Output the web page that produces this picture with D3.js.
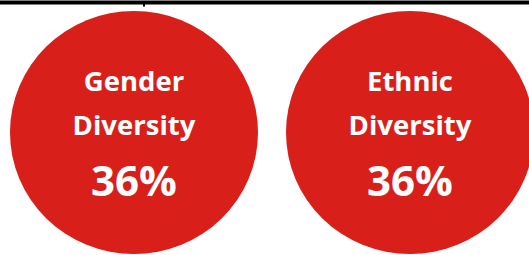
<!DOCTYPE html>
<html lang="en">
<head>
    <meta charset="UTF-8">
    <title>Diversity</title>
    <script src="https://d3js.org/d3.v7.min.js"></script>
    <style>
        html, body { margin: 0; padding: 0; background: #fff; overflow: hidden; }
    </style>
</head>
<body>
    <div id="chart"></div>
    <script>
        // data
        const categories = ["Gender", "Ethnic"];
        const subLabels = ["Diversity", "Diversity"];
        const values = [36, 36];

        const width = 529, height = 255;
        const svg = d3.select("#chart").append("svg")
            .attr("width", width).attr("height", height);

        // header rule across the top
        svg.append("rect")
            .attr("x", 0).attr("y", 0.5)
            .attr("width", width).attr("height", 4)
            .style("fill", "#000");
        svg.append("rect")
            .attr("x", 143).attr("y", 4)
            .attr("width", 2).attr("height", 2.5)
            .style("fill", "#000");

        const x = d3.scalePoint().domain(categories).range([134, 410]);
        const cy = 132.5;

        const g = svg.selectAll("g.bubble")
            .data(categories)
            .enter()
            .append("g")
            .attr("class", "bubble")
            .attr("transform", d => `translate(${x(d)},${cy})`);

        g.append("ellipse")
            .attr("rx", 124).attr("ry", 121.5)
            .style("fill", "#d91f1a");

        const font = "'Open Sans', sans-serif";

        g.append("text")
            .attr("y", -41.5)
            .attr("text-anchor", "middle")
            .style("font-family", font)
            .style("font-weight", "bold")
            .style("font-size", "27.5px")
            .style("fill", "#fff")
            .text(d => d);

        g.append("text")
            .attr("y", 2.5)
            .attr("text-anchor", "middle")
            .style("font-family", font)
            .style("font-weight", "bold")
            .style("font-size", "27.5px")
            .style("fill", "#fff")
            .text((d, i) => subLabels[i]);

        g.append("text")
            .attr("y", 63.5)
            .attr("text-anchor", "middle")
            .style("font-family", font)
            .style("font-weight", "bold")
            .style("font-size", "42px")
            .style("fill", "#fff")
            .text((d, i) => values[i] + "%");
    </script>
</body>
</html>
